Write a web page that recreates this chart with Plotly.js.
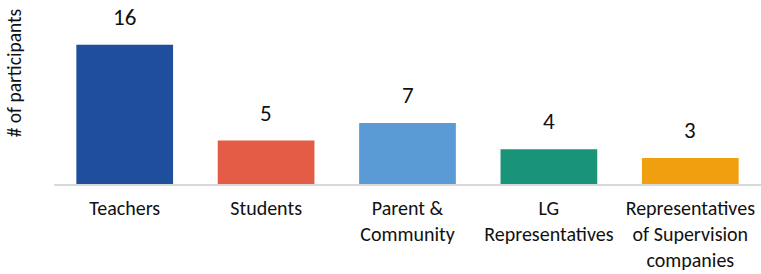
<!DOCTYPE html>
<html>
<head>
<meta charset="utf-8">
<script src="https://cdn.plot.ly/plotly-3.0.1.min.js"></script>
<style>html,body{margin:0;padding:0;background:#fff;}#chart{width:761px;height:274px;}</style>
</head>
<body>
<div id="chart"></div>
<script>
const categories = ["Teachers", "Students", "Parent &<br>Community", "LG<br>Representatives", "Representatives<br>of Supervision<br>companies"];
const participants = [16, 5, 7, 4, 3];
const barColors = ["#1f4e9c", "#e45c45", "#5b9bd5", "#1a9479", "#f0a00f"];
const yAxisTitle = "# of participants";

const FONT = "Carlito, Calibri, 'Liberation Sans', Arial, sans-serif";

const trace = {
  type: "bar",
  x: categories,
  y: participants,
  marker: {color: barColors},
  hoverinfo: "none"
};

const annotations = categories.map((c, i) => ({
  x: c, y: participants[i], xref: "x", yref: "y",
  text: String(participants[i]),
  showarrow: false, yanchor: "bottom", yshift: 12,
  font: {family: FONT, size: 23, color: "#111"}
}));
annotations.push({
  xref: "paper", yref: "paper", x: -0.057, y: 0.64,
  xanchor: "center", yanchor: "middle", textangle: -90,
  text: yAxisTitle, showarrow: false,
  font: {family: FONT, size: 19.5, color: "#111"}
});

const layout = {
  width: 761, height: 274,
  margin: {l: 54, r: 0, t: 10, b: 90},
  paper_bgcolor: "#fff", plot_bgcolor: "#fff",
  bargap: 0.316,
  showlegend: false,
  xaxis: {
    showline: true, linecolor: "#d9d9d9", linewidth: 2,
    ticks: "", tickfont: {family: FONT, size: 20, color: "#111"},
    ticklabelstandoff: 5,
    automargin: false
  },
  yaxis: {
    range: [0, 20], showgrid: false, zeroline: false, showticklabels: false,
    showline: false, ticks: ""
  },
  annotations: annotations
};

Plotly.newPlot("chart", [trace], layout, {displayModeBar: false, staticPlot: true});
</script>
</body>
</html>
